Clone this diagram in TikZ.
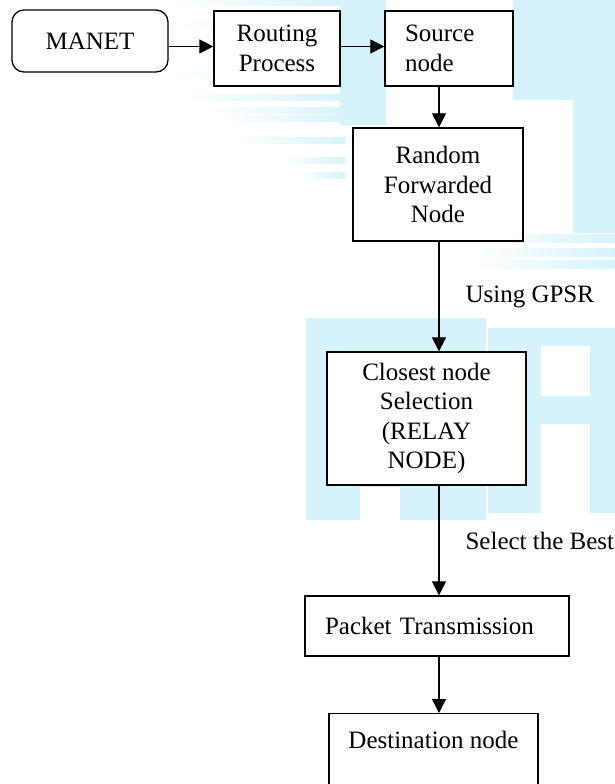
\documentclass[tikz,border=0pt]{standalone}
\usepackage{fontspec}
\setmainfont{Liberation Serif}
\usetikzlibrary{arrows.meta,backgrounds,positioning}
\definecolor{wmark}{RGB}{214,243,251}
\tikzset{
  box/.style={draw, fill=white, line width=1.3pt, align=center, inner sep=0pt,
    font=\fontsize{25}{29.5}\selectfont},
  roundbox/.style={box, rounded corners=12pt},
  flow/.style={-{Triangle[length=14pt, width=14pt]}, line width=1.1pt},
  edgelabel/.style={font=\fontsize{25}{29.5}\selectfont, inner sep=0pt,
    anchor=west, xshift=26pt},
  streak/.style={left color=white, right color=wmark, draw=none},
}

\begin{document}
\begin{tikzpicture}[x=1pt, y=-1pt]
\useasboundingbox (0,0) rectangle (615,784);

% Top row
\node[roundbox, minimum width=156pt, minimum height=62pt] (manet) at (90,41) {MANET};
\node[box, minimum width=126pt, minimum height=75pt] (routing) at (277,48.5) {Routing\\Process};
\node[box, align=left, text width=88pt, inner xsep=20pt, minimum height=75pt] (source) at (449,48.5) {Source\\node};

% Vertical chain
\node[box, minimum width=170pt, minimum height=113pt] (random) at (438,184.5) {Random\\Forwarded\\Node};
\node[box, minimum width=199pt, minimum height=133pt] (closest) at (426.5,418.5) {Closest node\\Selection\\(RELAY\\NODE)};
\node[box, align=left, text width=224pt, inner xsep=20pt, minimum height=60pt] (packet) at (437,626) {Packet Transmission};
\node[box, anchor=north, minimum width=209pt, text height=18pt, text depth=60pt, inner ysep=17pt] (dest) at (433.5,713) {Destination node};

\coordinate (axis) at (439,0);

\draw[flow] ([yshift=-5.5pt]manet.east) -- ([yshift=2pt]routing.west);
\draw[flow] ([yshift=2pt]routing.east) -- ([yshift=2pt]source.west);
\draw[flow] (source.south -| axis) -- (random.north -| axis);
\draw[flow] (random.south -| axis) -- node[edgelabel] (gpsr) {Using GPSR} (closest.north -| axis);
\draw[flow] (closest.south -| axis) -- node[edgelabel] (best) {Select the Best} (packet.north -| axis);
\draw[flow] (packet.south -| axis) -- (dest.north -| axis);

% Watermark
\begin{scope}[on background layer]
\fill[wmark] (306,318) rectangle (486,520);
\fill[wmark] (488,328) rectangle (615,513);
\fill[white] (541,346) rectangle (590,396);
\fill[white] (541,424) rectangle (590,513);
\fill[white] (360,487) rectangle (400,520);
\fill[wmark] (513,0) rectangle (615,100);
\fill[wmark] (573,100) rectangle (615,233);
\fill[wmark] (340,0) rectangle (386,125);
\foreach \y/\x in {3/170, 25/175, 74/170, 97/180, 110/210, 118/220, 140/230, 160/280, 175/300}
  \fill[streak] (\x,\y-3) rectangle (345,\y+3);
\foreach \y in {238, 252, 264}
  \fill[streak] (470,\y-4) rectangle (615,\y+4);
\end{scope}

\end{tikzpicture}
\end{document}
